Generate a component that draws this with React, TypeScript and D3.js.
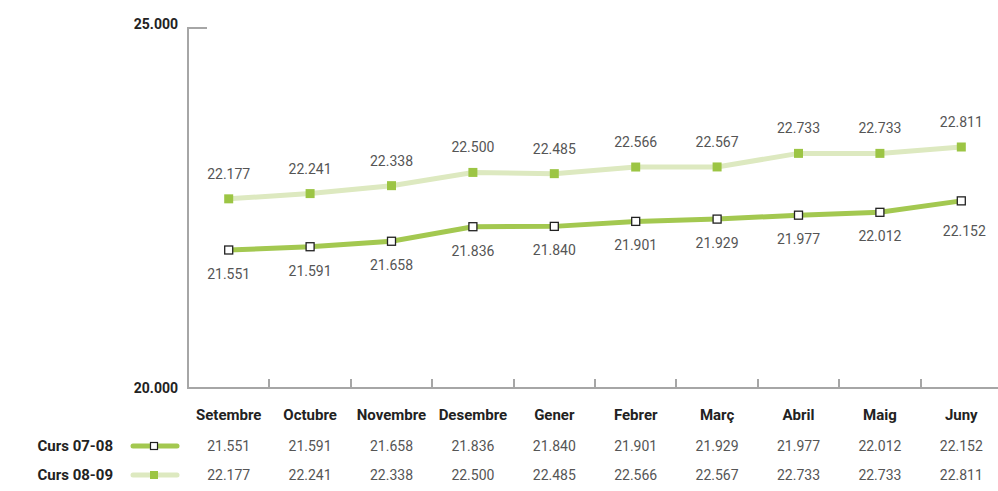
import { useEffect, useRef } from 'react';
import * as d3 from 'd3';

const MONTHS = ['Setembre', 'Octubre', 'Novembre', 'Desembre', 'Gener', 'Febrer', 'Març', 'Abril', 'Maig', 'Juny'];
const CURS_0708 = [21551, 21591, 21658, 21836, 21840, 21901, 21929, 21977, 22012, 22152];
const CURS_0809 = [22177, 22241, 22338, 22500, 22485, 22566, 22567, 22733, 22733, 22811];
const Y_LABELS = ['25.000', '20.000'];

const DARK = '#a3c850';
const LIGHT = '#dde9c0';
const FILL = '#9cc544';
const AXIS = '#a6a6a6';
const FONT = 'Roboto, "DejaVu Sans", sans-serif';

const fmt = (v: number) => d3.format(',')(v).replace(/,/g, '.');

export default function App() {
  const svgRef = useRef<SVGSVGElement>(null);

  useEffect(() => {
    if (!svgRef.current) return;
    const svg = d3.select(svgRef.current);
    svg.selectAll('*').remove();

    const x = d3.scaleBand<string>().domain(MONTHS).range([188, 1002]).paddingInner(0).paddingOuter(0);
    const y = d3.scaleLinear().domain([21551, 22811]).range([250, 147]);
    const cx = (m: string) => (x(m) ?? 0) + x.bandwidth() / 2;

    const top = 28;
    const bottom = 388;

    // axis frame
    const ax = svg.append('g').attr('stroke', AXIS).attr('stroke-width', 2).attr('fill', 'none');
    ax.append('path').attr('d', `M207,${top}H188V${bottom}H998`);
    MONTHS.slice(1).forEach(m => {
      const tx = Math.round(x(m) ?? 0);
      ax.append('line').attr('x1', tx).attr('x2', tx).attr('y1', bottom - 9).attr('y2', bottom);
    });

    svg.append('text').attr('x', 178).attr('y', top + 1).attr('text-anchor', 'end')
      .attr('font-weight', 'bold').attr('font-size', 14).attr('fill', '#222').text(Y_LABELS[0]);
    svg.append('text').attr('x', 178).attr('y', bottom + 5).attr('text-anchor', 'end')
      .attr('font-weight', 'bold').attr('font-size', 14).attr('fill', '#222').text(Y_LABELS[1]);

    const line = d3.line<number>().x((_, i) => cx(MONTHS[i])).y(d => y(d));

    svg.append('path').datum(CURS_0809).attr('d', line).attr('fill', 'none')
      .attr('stroke', LIGHT).attr('stroke-width', 5);
    svg.append('path').datum(CURS_0708).attr('d', line).attr('fill', 'none')
      .attr('stroke', DARK).attr('stroke-width', 5);

    const s = 9;
    svg.selectAll('.m0809').data(CURS_0809).enter().append('rect')
      .attr('x', (_, i) => cx(MONTHS[i]) - s / 2).attr('y', d => y(d) - s / 2)
      .attr('width', s).attr('height', s).attr('fill', FILL);
    svg.selectAll('.m0708').data(CURS_0708).enter().append('rect')
      .attr('x', (_, i) => cx(MONTHS[i]) - s / 2 + 0.5).attr('y', d => y(d) - s / 2 + 0.5)
      .attr('width', s - 1).attr('height', s - 1).attr('fill', '#fff')
      .attr('stroke', '#222').attr('stroke-width', 1.3);

    // value labels
    const lbl = svg.append('g').attr('font-size', 14).attr('fill', '#555').attr('text-anchor', 'middle');
    CURS_0809.forEach((v, i) => {
      lbl.append('text').attr('x', cx(MONTHS[i])).attr('y', y(v) - 20).text(fmt(v));
    });
    CURS_0708.forEach((v, i) => {
      const last = i === CURS_0708.length - 1;
      lbl.append('text').attr('x', cx(MONTHS[i]) + (last ? 3 : 0)).attr('y', y(v) + (last ? 35 : 29)).text(fmt(v));
    });

    // data table
    const tbl = svg.append('g').attr('text-anchor', 'middle');
    MONTHS.forEach((m, i) => {
      tbl.append('text').attr('x', cx(m)).attr('y', 420).attr('font-weight', 'bold')
        .attr('font-size', 15).attr('fill', '#222').text(m);
      tbl.append('text').attr('x', cx(m)).attr('y', 451).attr('font-size', 14)
        .attr('fill', '#555').text(fmt(CURS_0708[i]));
      tbl.append('text').attr('x', cx(m)).attr('y', 480).attr('font-size', 14)
        .attr('fill', '#555').text(fmt(CURS_0809[i]));
    });

    const legend = [
      { name: 'Curs 07-08', y: 446, color: DARK, open: true },
      { name: 'Curs 08-09', y: 475, color: LIGHT, open: false }
    ];
    legend.forEach(d => {
      svg.append('text').attr('x', 113).attr('y', d.y + 5).attr('text-anchor', 'end')
        .attr('font-weight', 'bold').attr('font-size', 15).attr('fill', '#222').text(d.name);
      svg.append('line').attr('x1', 133).attr('x2', 177).attr('y1', d.y).attr('y2', d.y)
        .attr('stroke', d.color).attr('stroke-width', 5).attr('stroke-linecap', 'round');
      if (d.open) {
        svg.append('rect').attr('x', 150.5).attr('y', d.y - 3.5).attr('width', 7).attr('height', 7)
          .attr('fill', '#fff').attr('stroke', '#222').attr('stroke-width', 1.2);
      } else {
        svg.append('rect').attr('x', 150).attr('y', d.y - 4).attr('width', 8).attr('height', 8).attr('fill', FILL);
      }
    });
  }, []);

  return (
    <svg ref={svgRef} width={998} height={491}
      style={{ position: 'absolute', left: 0, top: 0, fontFamily: FONT, background: '#fff' }} />
  );
}
